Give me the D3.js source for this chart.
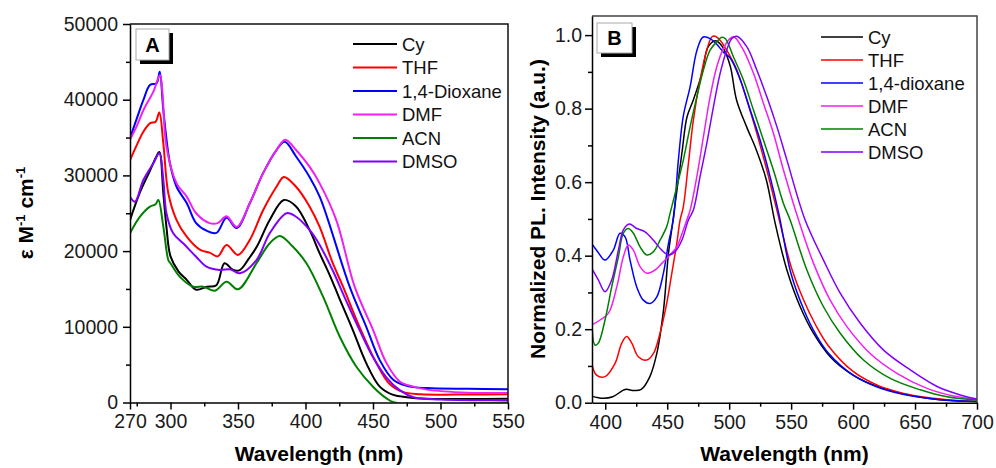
<html>
<head>
<title>Absorption and PL spectra</title>
<script src="https://cdn.jsdelivr.net/npm/d3@7"></script>
<style>
  body { margin: 0; background: #fff; }
  text { font-family: "Liberation Sans", Arial, sans-serif; }
</style>
</head>
<body>
<svg width="996" height="468"></svg>
<script>

// ---- data ----
const solventsA = ['Cy', 'THF', '1,4-Dioxane', 'DMF', 'ACN', 'DMSO'];
const solventsB = ['Cy', 'THF', '1,4-dioxane', 'DMF', 'ACN', 'DMSO'];
const colors = ['#000000', '#ff0000', '#0000ff', '#f020f0', '#008000', '#8000ff'];

// panel A: absorption, [wavelength nm, epsilon]
const absCy = [[270,24100],[277,27600],[285,30700],[289,32300],[291.7,33100],[294.7,27600],[297,23200],[300,19300],[306,17300],[312,16200],[319,14900],[327,15300],[334,15500],[340,18400],[346.5,17500],[351.4,17500],[358,19000],[364,20600],[373.5,24100],[384,26750],[393,25900],[403,22800],[410.5,19700],[418,16800],[425,13800],[435,9600],[445,5200],[455,2100],[465,1000],[475,700],[490,500],[520,450],[550,500]];
const absTHF = [[270,32000],[275,34000],[280,35800],[285,36900],[289,37100],[291.7,38300],[294.7,34200],[298.4,27600],[304.5,24100],[312,21900],[322,20150],[329,19800],[335,19300],[341.5,20800],[350,19500],[358.8,21500],[368.6,25400],[378.5,28500],[384,29800],[393,28500],[403,25900],[410.5,23200],[420,18500],[427.8,15300],[440,10000],[452.5,5200],[462,2500],[472,1400],[485,1100],[520,1050],[550,1100]];
const absDiox = [[270,34900],[275,37500],[280,40000],[284.8,41950],[289.7,42170],[292,43700],[294.7,38600],[299.6,31600],[304.5,28500],[312,26350],[319,23700],[326.7,22700],[334,22400],[341.5,24400],[349,23050],[358.8,26350],[368.6,30300],[378.5,33350],[384.6,34450],[393,32500],[403,29800],[410.5,27200],[416.7,24100],[432.7,15300],[445,10000],[455,5600],[465,3000],[475,2200],[490,1900],[520,1800],[550,1750]];
const absDMF = [[270,34700],[275,36500],[280,38640],[287.3,41060],[292.2,43260],[294,41000],[297,33800],[304.5,28950],[312,27200],[319,25000],[329,23700],[335,23700],[341.5,24600],[349,23200],[358.8,26350],[368.6,30300],[378.5,33350],[385,34700],[393,33350],[403,31150],[410.5,28950],[422.8,24100],[436.4,15300],[450,9600],[460,5200],[470,2750],[480,2100],[490,1700],[520,1300],[550,1250]];
const absACN = [[270,22350],[277.4,24540],[284.8,25870],[289,26200],[291,26750],[294.7,23220],[298.4,18820],[300,18400],[307,16600],[316.8,15300],[324.2,15300],[332.9,14770],[341.5,15960],[350,14950],[363.7,18390],[373.5,21030],[381,22000],[390,20700],[400.7,18390],[413,13980],[425.4,8690],[437.7,4730],[450,2090],[460,550],[466,0],[550,0]];
const absDMSO = [[270,27190],[273.7,26530],[279.9,29390],[287.3,31600],[291.7,32920],[294.7,29390],[297,25000],[302,22350],[309.4,21030],[319,19260],[326.7,17940],[336.6,17500],[344,17600],[351.4,17070],[363.7,18820],[373.5,22350],[386,25000],[393,24540],[403,22790],[410.5,20810],[420,17500],[430,13500],[440,9600],[450,6000],[460,3300],[470,1600],[480,700],[500,400],[550,300]];

// panel B: normalized PL, [wavelength nm, intensity]
const plCy = [[389,0.018],[398,0.012],[406,0.016],[416,0.036],[423,0.033],[429,0.036],[436,0.071],[441.6,0.134],[447,0.252],[451,0.406],[454,0.48],[461.8,0.678],[466,0.778],[471,0.823],[478,0.896],[483,0.968],[489,0.985],[493,0.975],[496,0.96],[501,0.914],[506,0.823],[514,0.751],[522,0.687],[530,0.606],[537,0.49],[546.6,0.361],[557.3,0.261],[568,0.189],[581.5,0.125],[597.7,0.08],[616.5,0.048],[638,0.026],[660,0.012],[681,0.005],[700,0.003]];
const plTHF = [[389,0.107],[393,0.075],[399.8,0.071],[407.9,0.107],[413.3,0.162],[417.3,0.18],[421.4,0.162],[426.7,0.125],[433.5,0.116],[438.9,0.134],[444.2,0.189],[449.6,0.27],[453.7,0.352],[457.7,0.433],[460.4,0.497],[463,0.533],[467.1,0.651],[471.1,0.769],[476.5,0.878],[481.9,0.959],[486,0.995],[488.7,0.997],[493,0.985],[498,0.959],[506.2,0.905],[514.3,0.823],[522.3,0.733],[530.4,0.633],[538.5,0.524],[550,0.37],[560,0.28],[570,0.21],[580,0.155],[600,0.085],[620,0.047],[640,0.026],[660,0.014],[680,0.007],[700,0.003]];
const plDiox = [[389,0.433],[394,0.41],[399.8,0.388],[406.5,0.415],[411.9,0.461],[416,0.451],[420,0.388],[425.4,0.315],[430.7,0.279],[436.2,0.27],[441.6,0.288],[446.9,0.352],[451,0.433],[455,0.5],[459,0.66],[463,0.78],[468.5,0.86],[474,0.959],[479,0.995],[485,0.99],[490,0.975],[495,0.955],[501,0.937],[509,0.878],[517,0.796],[525,0.714],[533,0.615],[540,0.515],[550,0.35],[560,0.255],[570,0.185],[580,0.135],[600,0.075],[620,0.042],[640,0.023],[660,0.012],[680,0.006],[700,0.003]];
const plDMF = [[389,0.211],[395.8,0.225],[402.5,0.243],[409.3,0.315],[414.6,0.397],[418.6,0.429],[422.7,0.415],[428.1,0.37],[433.5,0.352],[440.2,0.361],[445.6,0.379],[452.3,0.402],[457.7,0.424],[463,0.47],[465.8,0.497],[468.5,0.524],[473.9,0.615],[479.2,0.723],[484.6,0.832],[490,0.914],[495.4,0.964],[500.8,0.991],[504,0.995],[511.5,0.959],[519.6,0.896],[527.7,0.814],[535.7,0.733],[543.8,0.633],[556,0.497],[568.1,0.379],[581.5,0.279],[595,0.207],[613.8,0.134],[635.4,0.08],[659.6,0.039],[681.2,0.018],[700,0.009]];
const plACN = [[389,0.27],[391.7,0.157],[394.4,0.162],[399.8,0.225],[405.2,0.315],[410.6,0.397],[414.6,0.461],[418.6,0.474],[422.7,0.461],[428.1,0.424],[433.5,0.402],[438.9,0.411],[444.2,0.442],[449.6,0.479],[452.3,0.515],[457.7,0.587],[463,0.66],[468.5,0.751],[473.9,0.832],[479.2,0.905],[484.6,0.959],[490,0.982],[494,0.994],[497,0.99],[503.4,0.941],[511.5,0.878],[519.6,0.796],[527.7,0.714],[535.7,0.633],[543.8,0.542],[549.2,0.497],[562.7,0.361],[576.1,0.261],[589.6,0.189],[608.4,0.116],[630,0.066],[654.2,0.035],[675.8,0.016],[700,0.007]];
const plDMSO = [[389,0.366],[394.4,0.334],[399.8,0.302],[405.2,0.334],[410.6,0.415],[414.6,0.47],[419.4,0.486],[425.4,0.474],[432.1,0.465],[438.9,0.442],[445.6,0.415],[451,0.402],[456.3,0.411],[461.8,0.442],[467.1,0.497],[471.1,0.524],[476.5,0.615],[481.9,0.705],[487.3,0.805],[492.7,0.896],[498,0.959],[502.1,0.991],[506.2,0.997],[514.3,0.968],[522.3,0.905],[530.4,0.832],[538.5,0.751],[546.6,0.66],[561.3,0.497],[576.1,0.388],[589.6,0.298],[605.8,0.216],[624.6,0.143],[646.2,0.089],[667.8,0.044],[686.6,0.021],[700,0.01]];

// ticks
const xTicksA = [270, 300, 350, 400, 450, 500, 550];
const xMinorA = [275, 325, 375, 425, 475, 525];
const yTicksA = [0, 10000, 20000, 30000, 40000, 50000];
const yMinorA = [5000, 15000, 25000, 35000, 45000];
const xTicksB = [400, 450, 500, 550, 600, 650, 700];
const xMinorB = [425, 475, 525, 575, 625, 675];
const yTicksB = [0, 0.2, 0.4, 0.6, 0.8, 1.0];
const yMinorB = [0.1, 0.3, 0.5, 0.7, 0.9];

const svg = d3.select('svg');

function drawPanel(o) {
    const x = d3.scaleLinear().domain(o.xDomain).range([o.left, o.right]);
    const y = d3.scaleLinear().domain(o.yDomain).range([o.bottom, o.top]);
    const g = svg.append('g');

    g.append('clipPath').attr('id', 'clip' + o.name)
        .append('rect')
        .attr('x', o.left).attr('y', o.top)
        .attr('width', o.right - o.left).attr('height', o.bottom - o.top);

    const line = d3.line()
        .x(d => x(d[0]))
        .y(d => y(d[1]))
        .curve(d3.curveCatmullRom.alpha(0.5));

    g.append('g').attr('clip-path', `url(#clip${o.name})`)
        .selectAll('path')
        .data(o.series)
        .join('path')
        .attr('d', line)
        .attr('fill', 'none')
        .attr('stroke', (d, i) => colors[i])
        .attr('stroke-width', o.lineWidth)
        .attr('stroke-linejoin', 'round');

    // frame (top + right)
    g.append('path')
        .attr('d', `M${o.left},${o.top}H${o.right}V${o.bottom}`)
        .attr('fill', 'none').attr('stroke', o.frameColor).attr('stroke-width', 1.5);

    // minor ticks
    g.append('g').attr('transform', `translate(0,${o.bottom})`)
        .call(d3.axisBottom(x).tickValues(o.xMinor).tickSize(4).tickFormat(''))
        .call(a => a.select('.domain').remove());
    g.append('g').attr('transform', `translate(${o.left},0)`)
        .call(d3.axisLeft(y).tickValues(o.yMinor).tickSize(4).tickFormat(''))
        .call(a => a.select('.domain').remove());

    const xAxis = g.append('g').attr('transform', `translate(0,${o.bottom})`)
        .call(d3.axisBottom(x).tickValues(o.xTicks).tickSize(7).tickPadding(5).tickSizeOuter(0));
    const yAxis = g.append('g').attr('transform', `translate(${o.left},0)`)
        .call(d3.axisLeft(y).tickValues(o.yTicks).tickSize(7).tickPadding(o.yPad).tickSizeOuter(0).tickFormat(o.yFormat));

    [xAxis, yAxis].forEach(a => {
        a.attr('font-size', 19.5).attr('font-family', '"Liberation Sans", Arial, sans-serif');
        a.selectAll('text').attr('fill', '#1a1a1a');
    });
    g.selectAll('.domain, .tick line').attr('stroke', '#000').attr('stroke-width', 1.5);

    // x title
    g.append('text')
        .attr('x', (o.left + o.right) / 2).attr('y', 461)
        .attr('text-anchor', 'middle')
        .attr('font-size', 21).attr('font-weight', 'bold')
        .text('Wavelength (nm)');

    // panel letter box with shadow
    const b = o.box;
    g.append('rect').attr('x', b[0] + 4).attr('y', b[1] + 4).attr('width', b[2]).attr('height', b[3]).attr('fill', '#000');
    g.append('rect').attr('x', b[0]).attr('y', b[1]).attr('width', b[2]).attr('height', b[3])
        .attr('fill', '#fff').attr('stroke', '#aaa').attr('stroke-width', 1);
    g.append('text').attr('x', b[0] + b[2] / 2).attr('y', b[1] + b[3] / 2 + 7)
        .attr('text-anchor', 'middle').attr('font-size', 20).attr('font-weight', 'bold')
        .text(o.name);

    // legend
    const leg = g.append('g');
    o.labels.forEach((lab, i) => {
        const ly = o.legend.y + i * o.legend.step;
        leg.append('line')
            .attr('x1', o.legend.x).attr('x2', o.legend.x + o.legend.len)
            .attr('y1', ly).attr('y2', ly)
            .attr('stroke', colors[i]).attr('stroke-width', o.lineWidth);
        leg.append('text')
            .attr('x', o.legend.x + o.legend.len + 5).attr('y', ly + 6.5)
            .attr('font-size', 18.5).attr('fill', '#111')
            .text(lab);
    });
    return g;
}

drawPanel({
    name: 'A',
    left: 130, right: 508, top: 24, bottom: 402.5,
    xDomain: [270, 550], yDomain: [0, 50000],
    xTicks: xTicksA, xMinor: xMinorA, yTicks: yTicksA, yMinor: yMinorA,
    yFormat: d3.format('d'), yPad: 5,
    series: [absCy, absTHF, absDiox, absDMF, absACN, absDMSO],
    labels: solventsA,
    lineWidth: 2, frameColor: '#111',
    box: [136, 29, 33, 31],
    legend: { x: 353, len: 44, y: 44, step: 23.5 }
});

drawPanel({
    name: 'B',
    left: 592, right: 977, top: 16, bottom: 402.7,
    xDomain: [389.3, 700], yDomain: [0, 1.052],
    xTicks: xTicksB, xMinor: xMinorB, yTicks: yTicksB, yMinor: yMinorB,
    yFormat: d3.format('.1f'), yPad: 3,
    series: [plCy, plTHF, plDiox, plDMF, plACN, plDMSO],
    labels: solventsB,
    lineWidth: 1.5, frameColor: '#444',
    box: [597, 23, 35, 30],
    legend: { x: 821, len: 42, y: 37, step: 23 }
});

// y titles
const yTitleA = svg.append('text')
    .attr('transform', 'translate(33,213) rotate(-90)')
    .attr('text-anchor', 'middle')
    .attr('font-size', 21).attr('font-weight', 'bold');
yTitleA.append('tspan').text('ε M');
yTitleA.append('tspan').attr('dy', -8).attr('font-size', 13).text('-1');
yTitleA.append('tspan').attr('dy', 8).text(' cm');
yTitleA.append('tspan').attr('dy', -8).attr('font-size', 13).text('-1');

svg.append('text')
    .attr('transform', 'translate(545,209) rotate(-90)')
    .attr('text-anchor', 'middle')
    .attr('font-size', 21).attr('font-weight', 'bold')
    .text('Normalized PL. Intensity (a.u.)');

</script>
</body>
</html>
